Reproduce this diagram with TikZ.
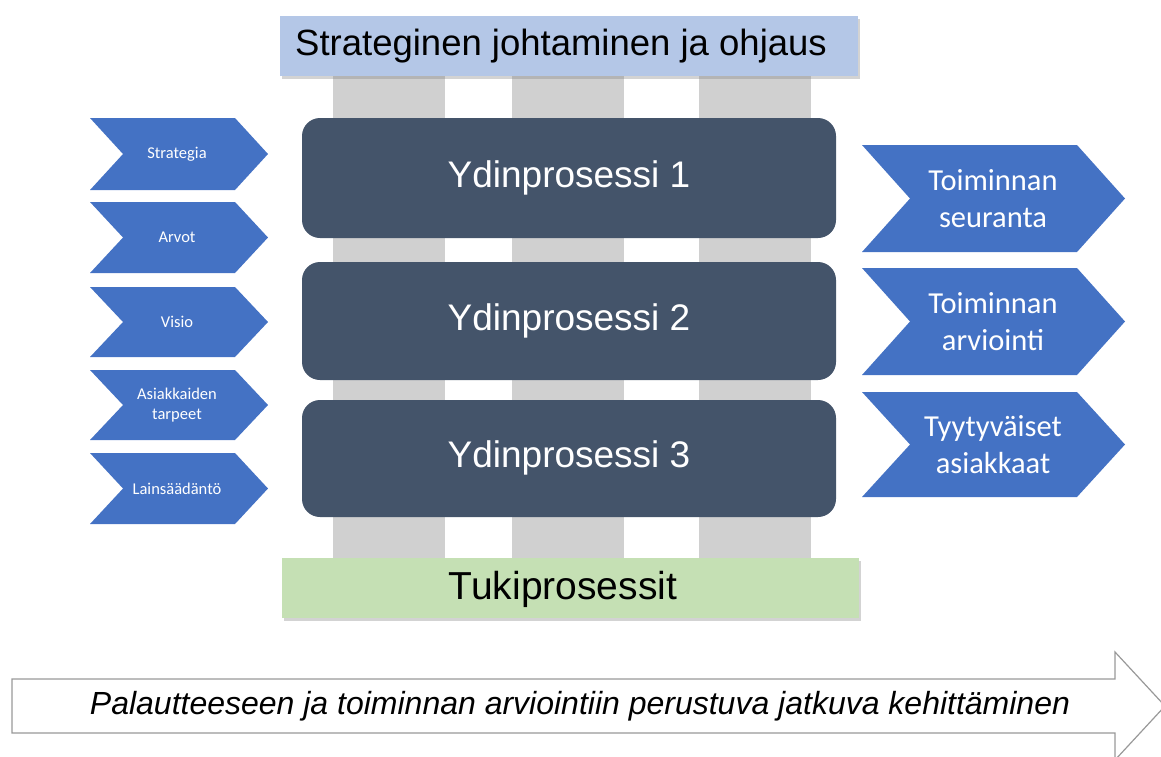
\documentclass[tikz,border=0pt]{standalone}
\usepackage{fontspec}
\setmainfont{Liberation Sans}
\newfontfamily\calib{Carlito}
\usetikzlibrary{shadows}
\definecolor{topblue}{HTML}{B4C7E7}
\definecolor{slate}{HTML}{44546A}
\definecolor{chevblue}{HTML}{4472C4}
\definecolor{suppgreen}{HTML}{C5E0B4}
\definecolor{pillar}{HTML}{D0D0D0}
\begin{document}
\begin{tikzpicture}[x=1pt,y=-1pt,
  pillarbox/.style={fill=pillar,draw=none},
  barbox/.style={draw=none,drop shadow={shadow xshift=2pt,shadow yshift=-3pt,opacity=0.35}},
  corebox/.style={fill=slate,draw=none,rounded corners=18pt},
  chevfill/.style={fill=chevblue,draw=none},
  ltext/.style={text=white,font=\calib\fontsize{16.5}{20}\selectfont,align=center},
  rtext/.style={text=white,font=\calib\fontsize{30.5}{37}\selectfont,align=center},
  coretext/.style={text=white,font=\fontsize{37}{40}\selectfont},
  bartext/.style={text=black,font=\fontsize{36.5}{40}\selectfont}]
\useasboundingbox (0,0) rectangle (1161,756);
% pillars
\foreach \a/\b in {333/445,512/624,699/811}{
  \fill[pillarbox] (\a,74) rectangle (\b,560);
}
% top bar
\path[barbox,fill=topblue] (280,16) rectangle (858,76);
\node[bartext] (top) at (561,46) {Strateginen johtaminen ja ohjaus};
% bottom bar
\path[barbox,fill=suppgreen] (282,558) rectangle (859,618);
\node[bartext,font=\fontsize{39}{42}\selectfont] (supp) at (563,589) {Tukiprosessit};
% core processes
\path[corebox] (302,118) rectangle (836,238);
\node[coretext] (y1) at (569,178) {Ydinprosessi 1};
\path[corebox] (302,262) rectangle (836,380);
\node[coretext] (y2) at (569,321) {Ydinprosessi 2};
\path[corebox] (302,400) rectangle (836,517);
\node[coretext] (y3) at (569,458) {Ydinprosessi 3};
% left chevrons
\foreach \t/\b/\txt/\n in {118/190/Strategia/l1,202/273/Arvot/l2,287/357/Visio/l3,370/440/{Asiakkaiden\\tarpeet}/l4,453/524/Lainsäädäntö/l5}{
  \path[chevfill] (90,\t) -- (235,\t) -- (268,{(\t+\b)/2}) -- (235,\b) -- (90,\b) -- (123,{(\t+\b)/2}) -- cycle;
  \node[ltext] (\n) at (177,{(\t+\b)/2}) {\txt};
}
% right chevrons
\foreach \t/\b/\txt/\n in {145/252/{Toiminnan\\seuranta}/r1,268/375/{Toiminnan\\arviointi}/r2,392/497/{Tyytyväiset\\asiakkaat}/r3}{
  \path[chevfill] (862,\t) -- (1077,\t) -- (1125,{(\t+\b)/2}) -- (1077,\b) -- (862,\b) -- (910,{(\t+\b)/2}) -- cycle;
  \node[rtext] (\n) at (993,{(\t+\b)/2}) {\txt};
}
% bottom arrow
\draw[draw=gray!80,line width=1.2pt,fill=white] (12,679) -- (1115,679) -- (1115,652) -- (1165,706) -- (1115,760) -- (1115,733) -- (12,733) -- cycle;
\node[font=\itshape\fontsize{32}{36}\selectfont] (impr) at (580,706) {Palautteeseen ja toiminnan arviointiin perustuva jatkuva kehittäminen};
\end{tikzpicture}
\end{document}
